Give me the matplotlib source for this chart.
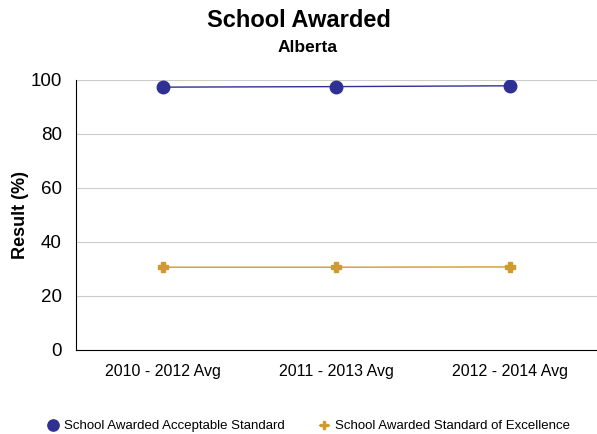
import matplotlib
matplotlib.use("Agg")
from matplotlib import pyplot as plt

plt.rcParams['font.family'] = ['Liberation Sans', 'DejaVu Sans']

categories = ["2010 - 2012 Avg", "2011 - 2013 Avg", "2012 - 2014 Avg"]
acceptable = [97.3, 97.5, 97.8]
excellence = [30.6, 30.6, 30.7]

fig = plt.figure(figsize=(5.97, 4.34), dpi=100)
ax = fig.add_axes([0.127, 0.194, 0.873, 0.622])

x = range(len(categories))
ax.plot(x, acceptable, color='#2e3192', lw=1, marker='o', ms=9,
        label='School Awarded Acceptable Standard')
ax.plot(x, excellence, color='#d09a2c', lw=1, marker='P', ms=7,
        label='School Awarded Standard of Excellence')

ax.set_xlim(-0.5, 2.5)
ax.set_ylim(0, 100)
ax.set_yticks([0, 20, 40, 60, 80, 100])
ax.set_xticks(list(x))
ax.set_xticklabels(categories, fontsize=11.5)
ax.tick_params(axis='y', labelsize=13.5, length=0, pad=10)
ax.tick_params(axis='x', length=0, pad=10)
ax.grid(axis='y', color='#cccccc', lw=0.8)
ax.set_axisbelow(True)
for s in ['top', 'right']:
    ax.spines[s].set_visible(False)
ax.spines['left'].set_color('black')
ax.spines['bottom'].set_color('black')
ax.set_ylabel("Result (%)", fontsize=13, fontweight='bold', labelpad=1)

fig.text(0.5, 0.952, "School Awarded", ha='center', va='center',
         fontsize=17, fontweight='bold')
fig.text(0.515, 0.89, "Alberta", ha='center', va='center',
         fontsize=12.5, fontweight='bold')

fig.legend(loc='center', bbox_to_anchor=(0.518, 0.018), ncol=2, frameon=False,
           fontsize=9.5, handlelength=0.7, handletextpad=0.5, columnspacing=2.6,
           markerscale=0.9)

fig.savefig("out.png", dpi=100)
